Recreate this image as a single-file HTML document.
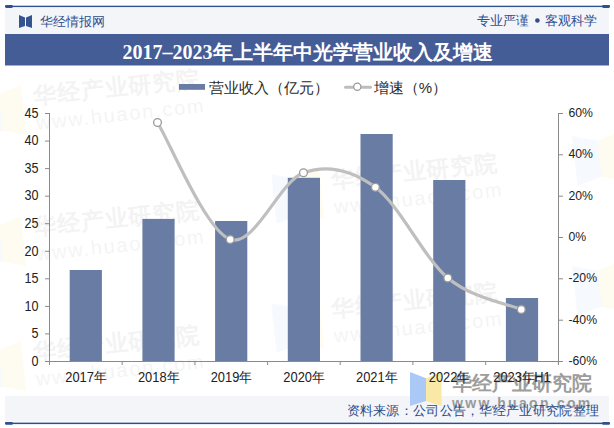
<!DOCTYPE html>
<html><head><meta charset="utf-8"><style>
html,body{margin:0;padding:0;background:#fff;width:614px;height:428px;overflow:hidden}
svg{display:block;font-family:"Liberation Sans",sans-serif}
</style></head><body>
<svg width="614" height="428" viewBox="0 0 614 428">
<rect x="5" y="7.8" width="604" height="26.2" fill="#f3f5f9"/>
<rect x="5" y="5.7" width="605" height="1.4" fill="#2f4f8f"/>
<rect x="5" y="5.1" width="8" height="2.8" rx="1.4" fill="#2f4f8f"/>
<rect x="602" y="5.1" width="8" height="2.8" rx="1.4" fill="#2f4f8f"/>
<path d="M19,15 L25,17.5 V26 L19,28 Z M32,15 L26,17.5 V26 L32,28 Z" fill="#34548f"/>
<text x="40" y="25.8" font-size="13" fill="#2f4e90">华经情报网</text>
<text x="477" y="24.8" font-size="13" fill="#2f4e8f">专业严谨</text>
<circle cx="537.4" cy="20.5" r="2.3" fill="#2f4e8f"/>
<text x="544.5" y="24.8" font-size="13" fill="#2f4e8f">客观科学</text>
<rect x="5" y="34" width="604" height="31.5" fill="#455d97"/>
<text x="307.5" y="59.3" font-size="20" fill="#fff" text-anchor="middle" font-family="Liberation Serif, serif"><tspan font-weight="bold">2017–2023</tspan><tspan font-weight="bold">年上半年中光学营业收入及增速</tspan></text>
<g transform="translate(34.0,104.0) rotate(-6)"><path d="M-59,-20 L-34,-13 V23 L-59,30 Z" fill="#8fb3ea" opacity="0.08"/><path d="M-34,-13 L-11,-20 V30 L-34,23 Z" fill="#f5d76e" opacity="0.10"/><text x="0" y="0" font-size="23" font-weight="bold" fill="#000" opacity="0.045" letter-spacing="1">华经产业研究院</text><text x="0" y="26" font-size="20" fill="#000" opacity="0.04" letter-spacing="1.8">www.huaon.com</text></g><g transform="translate(34.0,235.0) rotate(-6)"><path d="M-59,-20 L-34,-13 V23 L-59,30 Z" fill="#8fb3ea" opacity="0.08"/><path d="M-34,-13 L-11,-20 V30 L-34,23 Z" fill="#f5d76e" opacity="0.10"/><text x="0" y="0" font-size="23" font-weight="bold" fill="#000" opacity="0.045" letter-spacing="1">华经产业研究院</text><text x="0" y="26" font-size="20" fill="#000" opacity="0.04" letter-spacing="1.8">www.huaon.com</text></g><g transform="translate(332.0,188.0) rotate(-6)"><path d="M-59,-20 L-34,-13 V23 L-59,30 Z" fill="#8fb3ea" opacity="0.08"/><path d="M-34,-13 L-11,-20 V30 L-34,23 Z" fill="#f5d76e" opacity="0.10"/><text x="0" y="0" font-size="23" font-weight="bold" fill="#000" opacity="0.045" letter-spacing="1">华经产业研究院</text><text x="0" y="26" font-size="20" fill="#000" opacity="0.04" letter-spacing="1.8">www.huaon.com</text></g><g transform="translate(332.0,317.0) rotate(-6)"><path d="M-59,-20 L-34,-13 V23 L-59,30 Z" fill="#8fb3ea" opacity="0.08"/><path d="M-34,-13 L-11,-20 V30 L-34,23 Z" fill="#f5d76e" opacity="0.10"/><text x="0" y="0" font-size="23" font-weight="bold" fill="#000" opacity="0.045" letter-spacing="1">华经产业研究院</text><text x="0" y="26" font-size="20" fill="#000" opacity="0.04" letter-spacing="1.8">www.huaon.com</text></g><g transform="translate(34.0,360.0) rotate(-6)"><path d="M-59,-20 L-34,-13 V23 L-59,30 Z" fill="#8fb3ea" opacity="0.08"/><path d="M-34,-13 L-11,-20 V30 L-34,23 Z" fill="#f5d76e" opacity="0.10"/><text x="0" y="0" font-size="23" font-weight="bold" fill="#000" opacity="0.045" letter-spacing="1">华经产业研究院</text><text x="0" y="26" font-size="20" fill="#000" opacity="0.04" letter-spacing="1.8">www.huaon.com</text></g><g transform="translate(633.0,150.0) rotate(-6)"><path d="M-59,-20 L-34,-13 V23 L-59,30 Z" fill="#8fb3ea" opacity="0.08"/><path d="M-34,-13 L-11,-20 V30 L-34,23 Z" fill="#f5d76e" opacity="0.10"/><text x="0" y="0" font-size="23" font-weight="bold" fill="#000" opacity="0.045" letter-spacing="1">华经产业研究院</text><text x="0" y="26" font-size="20" fill="#000" opacity="0.04" letter-spacing="1.8">www.huaon.com</text></g><g transform="translate(633.0,280.0) rotate(-6)"><path d="M-59,-20 L-34,-13 V23 L-59,30 Z" fill="#8fb3ea" opacity="0.08"/><path d="M-34,-13 L-11,-20 V30 L-34,23 Z" fill="#f5d76e" opacity="0.10"/><text x="0" y="0" font-size="23" font-weight="bold" fill="#000" opacity="0.045" letter-spacing="1">华经产业研究院</text><text x="0" y="26" font-size="20" fill="#000" opacity="0.04" letter-spacing="1.8">www.huaon.com</text></g>
<rect x="179" y="84" width="26" height="5.8" fill="#687ca4"/>
<text x="208.8" y="92.5" font-size="15" fill="#2a2a2a">营业收入（亿元）</text>
<path d="M345.5,87.3H370.5" stroke="#bdbdbd" stroke-width="3" stroke-linecap="round"/>
<circle cx="357.3" cy="86.7" r="3.6" fill="#fff" stroke="#9a9a9a" stroke-width="1.2"/>
<text x="373.8" y="92.5" font-size="15" fill="#2a2a2a">增速（%）</text>
<rect x="69.7" y="270.0" width="32.2" height="91.0" fill="#687ca4"/>
<rect x="142.4" y="218.9" width="32.2" height="142.1" fill="#687ca4"/>
<rect x="215.1" y="221.0" width="32.2" height="140.0" fill="#687ca4"/>
<rect x="287.8" y="177.8" width="32.2" height="183.2" fill="#687ca4"/>
<rect x="360.5" y="134.0" width="32.2" height="227.0" fill="#687ca4"/>
<rect x="433.2" y="180.0" width="32.2" height="181.0" fill="#687ca4"/>
<rect x="505.9" y="298.0" width="32.2" height="63.0" fill="#687ca4"/>

<g stroke="#8a8a8a" stroke-width="1" fill="none">
<path d="M49.5,113.5V364.5 M558.5,113.5V364.5 M49,361.5H559 M45,113.5H50M45,141.1H50M45,168.6H50M45,196.2H50M45,223.7H50M45,251.3H50M45,278.8H50M45,306.4H50M45,333.9H50M45,361.5H50 M558,113.5H563M558,154.8H563M558,196.2H563M558,237.5H563M558,278.8H563M558,320.2H563M558,361.5H563 M49.5,361V365M122.2,361V365M194.9,361V365M267.6,361V365M340.2,361V365M412.9,361V365M485.7,361V365M558.4,361V365"/>
</g>
<path d="M157.5,122.5 C169.6,142.0 205.9,231.0 230.2,239.4 C254.5,247.8 279.3,181.5 303.5,172.8 C327.7,164.1 351.3,169.8 375.4,187.3 C399.4,204.8 423.5,257.6 447.8,278.0 C472.1,298.4 509.0,304.2 521.3,309.4" fill="none" stroke="#bfbfbf" stroke-width="3.2"/>
<circle cx="157.5" cy="122.5" r="3.9" fill="#fff" stroke="#9a9a9a" stroke-width="1.3"/><circle cx="230.2" cy="239.4" r="3.9" fill="#fff" stroke="#9a9a9a" stroke-width="1.3"/><circle cx="303.5" cy="172.8" r="3.9" fill="#fff" stroke="#9a9a9a" stroke-width="1.3"/><circle cx="375.4" cy="187.3" r="3.9" fill="#fff" stroke="#9a9a9a" stroke-width="1.3"/><circle cx="447.8" cy="278.0" r="3.9" fill="#fff" stroke="#9a9a9a" stroke-width="1.3"/><circle cx="521.3" cy="309.4" r="3.9" fill="#fff" stroke="#9a9a9a" stroke-width="1.3"/>
<rect x="5" y="396" width="604" height="25.6" fill="#f3f5f9"/>
<rect x="5" y="422.6" width="605" height="1.5" fill="#2f4f8f"/>
<rect x="5" y="422" width="8" height="2.8" rx="1.4" fill="#2f4f8f"/>
<rect x="602" y="422" width="8" height="2.8" rx="1.4" fill="#2f4f8f"/>
<path d="M410,372 L426,378.3 V401 L410,406 Z" fill="#abc9f6"/>
<path d="M441.5,372 L426,378.3 V401 L441.5,406 Z" fill="#fae8a6"/>
<text x="451.5" y="390" font-size="20" font-weight="bold" fill="#8c8c8c" opacity="0.85">华经产业研究院</text>
<text x="452" y="407.5" font-size="14" font-weight="bold" fill="#8a8a8a" opacity="0.85" letter-spacing="2.3">www.huaon.com</text>
<g font-size="13" fill="#222">
<g font-size="14"><text transform="translate(38.5,117.7) scale(0.9,1)" text-anchor="end">45</text>
<text transform="translate(38.5,145.3) scale(0.9,1)" text-anchor="end">40</text>
<text transform="translate(38.5,172.8) scale(0.9,1)" text-anchor="end">35</text>
<text transform="translate(38.5,200.4) scale(0.9,1)" text-anchor="end">30</text>
<text transform="translate(38.5,227.9) scale(0.9,1)" text-anchor="end">25</text>
<text transform="translate(38.5,255.5) scale(0.9,1)" text-anchor="end">20</text>
<text transform="translate(38.5,283.0) scale(0.9,1)" text-anchor="end">15</text>
<text transform="translate(38.5,310.6) scale(0.9,1)" text-anchor="end">10</text>
<text transform="translate(38.5,338.1) scale(0.9,1)" text-anchor="end">5</text>
<text transform="translate(38.5,365.7) scale(0.9,1)" text-anchor="end">0</text>
</g><g font-size="13.6"><text transform="translate(568.5,117.1) scale(0.9,1)">60%</text>
<text transform="translate(568.5,158.4) scale(0.9,1)">40%</text>
<text transform="translate(568.5,199.8) scale(0.9,1)">20%</text>
<text transform="translate(568.5,241.1) scale(0.9,1)">0%</text>
<text transform="translate(568.5,282.4) scale(0.9,1)">-20%</text>
<text transform="translate(568.5,323.8) scale(0.9,1)">-40%</text>
<text transform="translate(568.5,365.1) scale(0.9,1)">-60%</text>
</g><g font-size="14"><text transform="translate(85.8,382) scale(0.92,1)" text-anchor="middle">2017年</text>
<text transform="translate(158.5,382) scale(0.92,1)" text-anchor="middle">2018年</text>
<text transform="translate(231.2,382) scale(0.92,1)" text-anchor="middle">2019年</text>
<text transform="translate(303.9,382) scale(0.92,1)" text-anchor="middle">2020年</text>
<text transform="translate(376.6,382) scale(0.92,1)" text-anchor="middle">2021年</text>
<text transform="translate(449.3,382) scale(0.92,1)" text-anchor="middle">2022年</text>
<text transform="translate(522.0,382) scale(0.92,1)" text-anchor="middle">2023年H1</text>
</g>
</g>
<text x="346.5" y="415" font-size="13" letter-spacing="0.3" fill="#2c4a8a">资料来源：公司公告，华经产业研究院整理</text>
</svg>
</body></html>
